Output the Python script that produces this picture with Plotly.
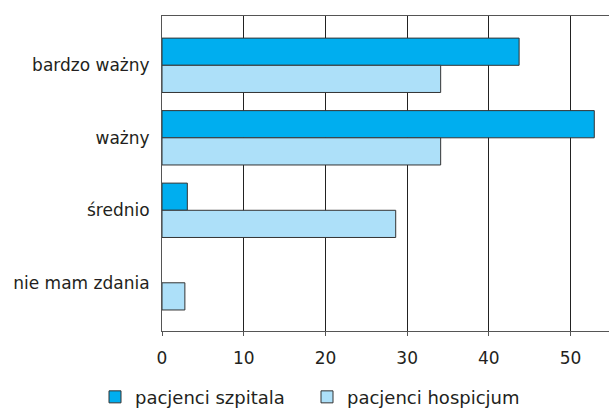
import plotly.graph_objects as go

categories = ["bardzo ważny", "ważny", "średnio", "nie mam zdania"]
szpital = [43.7, 52.9, 3.1, None]
hospicjum = [34.1, 34.1, 28.6, 2.8]
x_ticks = [0, 10, 20, 30, 40, 50]

DARK = "#00AEEF"
LIGHT = "#ADE0F9"
EDGE = "#333333"
TEXT = "#231F20"
FONT = "DejaVu Sans"
PAD = "\u00a0" * 3  # extra room between the two legend entries

fig = go.Figure()
fig.add_trace(go.Bar(
    y=categories, x=szpital, orientation="h", name="pacjenci szpitala" + PAD,
    marker=dict(color=DARK, line=dict(color=EDGE, width=1)),
))
fig.add_trace(go.Bar(
    y=categories, x=hospicjum, orientation="h", name="pacjenci hospicjum",
    marker=dict(color=LIGHT, line=dict(color=EDGE, width=1)),
))

fig.update_layout(
    width=609, height=408,
    margin=dict(l=162, r=0, t=16, b=77, autoexpand=False),
    paper_bgcolor="white", plot_bgcolor="white",
    barmode="group", bargap=0.25, bargroupgap=0,
    font=dict(family=FONT, size=17, color=TEXT),
    showlegend=True,
    legend=dict(
        orientation="h", xref="container", x=0.156, xanchor="left",
        yref="paper", y=-0.21, yanchor="middle",
        font=dict(size=18, color=TEXT), itemwidth=30,
    ),
    xaxis=dict(
        range=[0, 54.7], tickvals=x_ticks, ticktext=[str(v) for v in x_ticks],
        showgrid=True, gridcolor="#222222", gridwidth=1,
        showline=True, linecolor="#555555", linewidth=1, mirror=True,
        ticks="outside", ticklen=4, tickcolor="#555555",
        zeroline=False, tickfont=dict(size=17), ticklabelstandoff=8,
    ),
    yaxis=dict(
        categoryorder="array", categoryarray=categories,
        range=[3.665, -0.68],
        showgrid=False, showline=True, linecolor="#555555", linewidth=1,
        ticks="", ticklabelstandoff=8, tickfont=dict(size=17),
    ),
)

fig.write_html("out.html")
